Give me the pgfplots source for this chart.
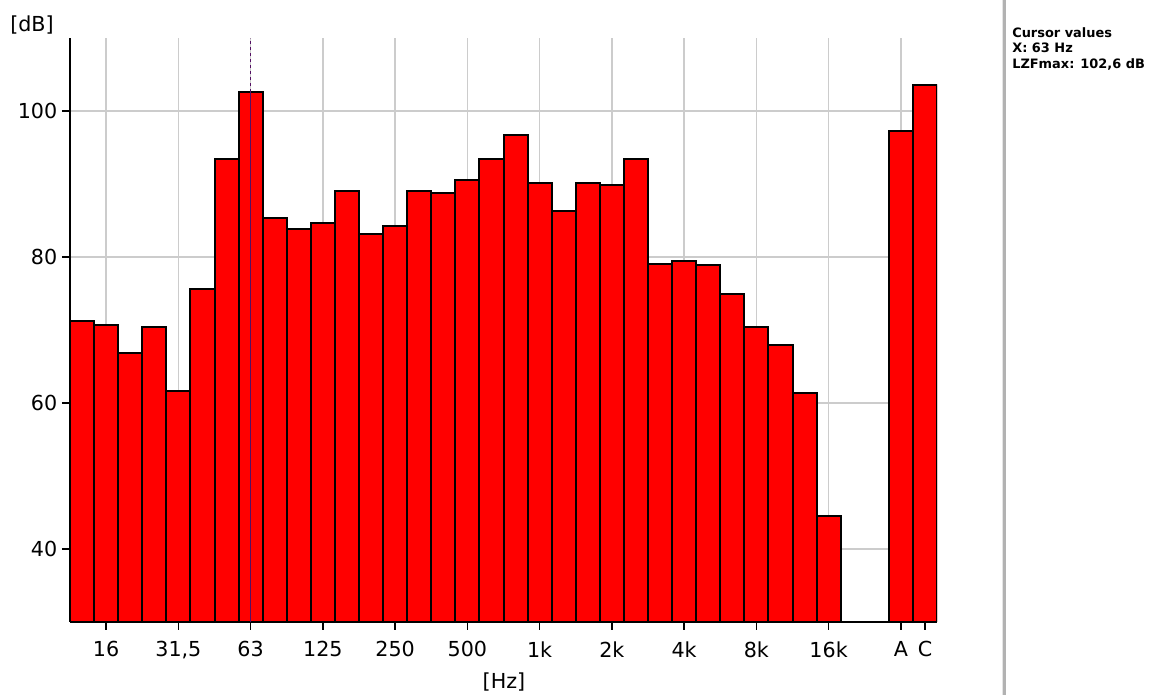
\documentclass[border=0pt]{standalone}
\usepackage{pgfplots}
\usepackage{pgfplotstable}
\pgfplotsset{compat=1.18}
\usepackage{fontspec}
\setmainfont{DejaVu Sans}

\definecolor{barred}{RGB}{255,0,0}
\definecolor{gridgray}{RGB}{204,204,204}
\definecolor{cursorline}{RGB}{84,16,100}

% Third-octave spectrum, LZFmax in dB; slots 0..31 = 12.5 Hz .. 16 kHz,
% slots 32/33 left empty, 34 = A-weighted, 35 = C-weighted total
\pgfplotstableread{
idx level
0  71.3
1  70.7
2  66.9
3  70.4
4  61.6
5  75.6
6  93.4
7  102.6
8  85.4
9  83.8
10 84.6
11 89.1
12 83.2
13 84.2
14 89.1
15 88.8
16 90.5
17 93.4
18 96.7
19 90.1
20 86.3
21 90.1
22 89.8
23 93.4
24 79.1
25 79.4
26 78.9
27 74.9
28 70.4
29 67.9
30 61.4
31 44.5
34 97.3
35 103.5
}\spectrum

\begin{document}
\begin{tikzpicture}
% page frame
\path (0,0) rectangle (864.75pt,521.25pt);

% panel separator on the right
\fill[gray!20] (751.2pt,0) rectangle (752.4pt,521.25pt);
\fill[gray!60] (752.4pt,0) rectangle (754.2pt,521.25pt);

\begin{axis}[
  set layers,
  at={(52.5pt,54.75pt)}, anchor=south west,
  scale only axis, width=650.25pt, height=438pt,
  xmin=-0.5, xmax=35.5, ymin=30, ymax=110,
  axis x line*=bottom, axis y line*=left,
  axis line style={line width=1.5pt, black, -, on layer=axis foreground},
  tick align=outside, major tick length=6pt,
  tick style={line width=1.1pt, black},
  xtick={1,4,7,10,13,16,19,22,25,28,31,34},
  xticklabels={16,{31,5},63,125,250,500,1k,2k,4k,8k,16k,A},
  extra x ticks={35}, extra x tick labels={C},
  extra x tick style={grid=none},
  ytick={40,60,80,100},
  grid=major, grid style={gridgray, line width=1.3pt},
  ticklabel style={font=\fontsize{15.5}{18}\selectfont, text=black},
  xticklabel style={yshift=-5pt},
  /pgf/number format/assume math mode=true,
  ybar, bar width=1,
]
\addplot[fill=barred, draw=black, line width=1.5pt] table[x=idx, y=level] {\spectrum};

% cursor at 63 Hz
\draw[cursorline, line width=0.9pt] (axis cs:7,30) -- (axis cs:7,102.6);
\draw[cursorline, line width=0.9pt, dash pattern=on 2.5pt off 2pt] (axis cs:7,102.6) -- (axis cs:7,110);
\end{axis}

\node[anchor=west, inner sep=0pt, font=\fontsize{15.5}{18}\selectfont] at (7.5pt,502.5pt) {[dB]};
\node[inner sep=0pt, font=\fontsize{15.5}{18}\selectfont] at (378pt,10pt) {[Hz]};

\node[anchor=north west, align=left, inner sep=0pt,
      font=\bfseries\fontsize{9.7}{11.8}\selectfont] at (759pt,501pt)
      {Cursor values\\X: 63 Hz\\LZFmax: 102,6 dB};
\end{tikzpicture}
\end{document}
